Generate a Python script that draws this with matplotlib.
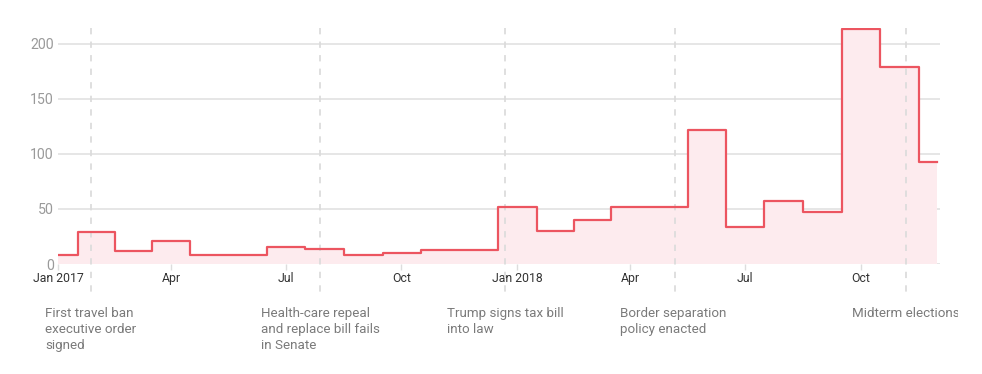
import matplotlib
matplotlib.use("Agg")
import matplotlib.pyplot as plt
import matplotlib.dates as mdates
import pandas as pd
from matplotlib.transforms import blended_transform_factory, Bbox

plt.rcParams['font.family'] = ['Roboto', 'DejaVu Sans']

# ---- data ----
months = pd.date_range("2017-01-01", "2018-12-01", freq="MS")
values = [8, 29, 12, 21, 8, 8, 15, 14, 8, 10, 13, 13,
          52, 30, 40, 52, 52, 122, 34, 57, 47, 214, 179, 93]
tick_dates = pd.to_datetime(["2017-01-01", "2017-04-01", "2017-07-01", "2017-10-01",
                             "2018-01-01", "2018-04-01", "2018-07-01", "2018-10-01"])
tick_labels = ["Jan 2017", "Apr", "Jul", "Oct", "Jan 2018", "Apr", "Jul", "Oct"]
y_ticks = [0, 50, 100, 150, 200]
event_dates = pd.to_datetime(["2017-01-27", "2017-07-28", "2017-12-22", "2018-05-06", "2018-11-06"])
event_labels = ["First travel ban\nexecutive order\nsigned",
                "Health-care repeal\nand replace bill fails\nin Senate",
                "Trump signs tax bill\ninto law",
                "Border separation\npolicy enacted",
                "Midterm elections"]
event_text_px = [45, 261, 447, 620, 852]

W, H = 982, 374
fig = plt.figure(figsize=(W / 100, H / 100), dpi=100)
ax = fig.add_axes([58 / W, 1 - 264 / H, 882 / W, 236 / H])

line_color = "#ec5560"
fill_color = "#fdebee"

ax.fill_between(months, values, 0, step="mid", color=fill_color, lw=0, zorder=1)
ax.plot(months, values, drawstyle="steps-mid", color=line_color, lw=1.6, zorder=3)

ax.set_xlim(pd.Timestamp("2017-01-01"), pd.Timestamp("2018-12-03"))
ax.set_ylim(0, 214.5)

for s in ax.spines.values():
    s.set_visible(False)

ax.set_yticks(y_ticks)
ax.set_yticklabels([str(v) for v in y_ticks])
ax.tick_params(axis="y", length=0, pad=3, labelsize=10.2, labelcolor="#9a9a9a")
ax.yaxis.grid(True, color="#e6e6e6", lw=1.4, zorder=0)
ax.set_axisbelow(True)

ax.set_xticks(tick_dates)
ax.set_xticklabels(tick_labels)
ax.tick_params(axis="x", length=4, width=1, color="#dddddd", pad=2,
               labelsize=8.8, labelcolor="#333333")

trans = blended_transform_factory(ax.transData, ax.transAxes)
for d in event_dates:
    ax.plot([d, d], [1.0, -0.145], transform=trans, color="#dcdcdc", lw=1.3,
            dashes=(3.5, 4), clip_on=False, zorder=2)

clip = Bbox.from_extents(0, 0, 958, H)
for lbl, px in zip(event_labels, event_text_px):
    t = fig.text(px / W, 1 - 307 / H, lbl, ha="left", va="top", fontsize=9.6,
                 color="#7a7a7a", linespacing=1.3)
    t.set_clip_on(True)
    t.set_clip_box(clip)

fig.savefig("out.png", dpi=100)
